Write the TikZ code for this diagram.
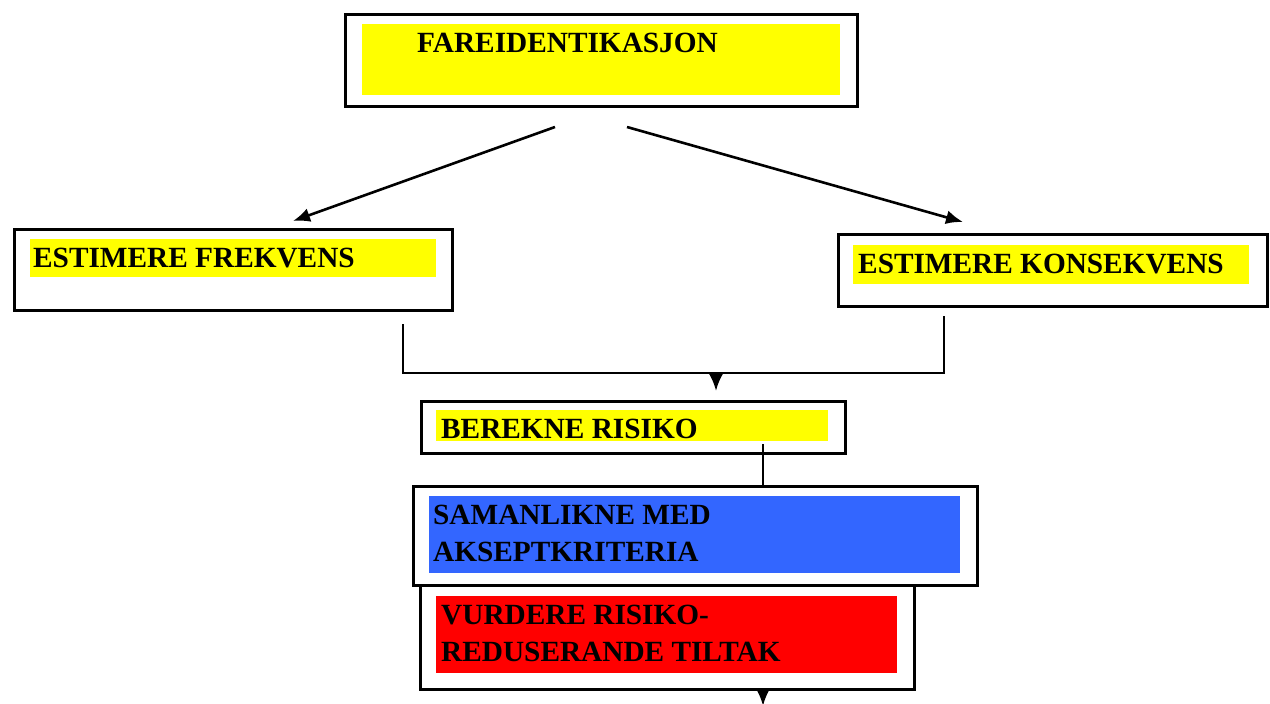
\documentclass[tikz,border=0pt]{standalone}
\usepackage{fontspec}
\setmainfont{Liberation Serif}
\usetikzlibrary{arrows.meta}
\definecolor{boxyellow}{RGB}{255,255,0}
\definecolor{boxblue}{RGB}{51,102,255}
\definecolor{boxred}{RGB}{255,0,0}
\begin{document}
\begin{tikzpicture}[x=1pt,y=-1pt,
  outerbox/.style={draw=black, line width=2.8pt, fill=white, inner sep=0pt, anchor=north west},
  fillbox/.style={inner sep=0pt, anchor=north west, draw=none},
  lbl/.style={font=\fontsize{29.3}{37}\selectfont\bfseries, inner sep=0pt, anchor=base west, align=left},
  conn/.style={draw=black, line width=2.6pt},
  arr/.style={conn, -{Latex[length=17pt,width=14pt]}},
  arrtop/.style={conn, -{Latex[length=17pt,width=14pt]}}
]
\useasboundingbox (0,0) rectangle (1270,704);
\fill[white] (0,0) rectangle (1270,704);

% top box
\node[outerbox, minimum width=512pt, minimum height=92pt] (fare) at (344,13) {};
\node[fillbox, fill=boxyellow, minimum width=478pt, minimum height=71pt] (fareY) at (362,24) {};
\node[lbl] (fareT) at (417,52) {FAREIDENTIKASJON};

% left box
\node[outerbox, minimum width=438pt, minimum height=81pt] (frek) at (13,228) {};
\node[fillbox, fill=boxyellow, minimum width=406pt, minimum height=38pt] (frekY) at (30,239) {};
\node[lbl] (frekT) at (33,267) {ESTIMERE FREKVENS};

% right box
\node[outerbox, minimum width=429pt, minimum height=72pt] (kons) at (837,233) {};
\node[fillbox, fill=boxyellow, minimum width=396pt, minimum height=39pt] (konsY) at (853,245) {};
\node[lbl] (konsT) at (858,273) {ESTIMERE KONSEKVENS};

% berekne risiko
\node[outerbox, minimum width=424pt, minimum height=52pt] (bere) at (420,400) {};
\node[fillbox, fill=boxyellow, minimum width=392pt, minimum height=31pt] (bereY) at (436,410) {};
\node[lbl] (bereT) at (441,438) {BEREKNE RISIKO};

% vurdere (drawn first so samanlikne lies on top)
\node[outerbox, minimum width=494pt, minimum height=104pt] (vurd) at (419,584) {};
\node[fillbox, fill=boxred, minimum width=461pt, minimum height=77pt] (vurdY) at (436,596) {};
\node[lbl] (vurdT) at (441,661) {VURDERE RISIKO-\\REDUSERANDE TILTAK};

% samanlikne
\node[outerbox, minimum width=564pt, minimum height=99pt] (saman) at (412,485) {};
\node[fillbox, fill=boxblue, minimum width=531pt, minimum height=77pt] (samanY) at (429,496) {};
\node[lbl] (samanT) at (433,561) {SAMANLIKNE MED\\AKSEPTKRITERIA};

% connectors
\coordinate (t1) at (555,127);
\coordinate (t2) at (627,127);
\coordinate (e1) at (293,221);
\coordinate (e2) at (963,222);
\draw[arrtop] (t1) -- (e1);
\draw[arrtop] (t2) -- (e2);

\coordinate (bl) at (403,324);
\coordinate (br) at (944,316);
\coordinate (bj) at (716,373);
\draw[conn] (bl) -- (403,373) -- (944,373) -- (br);
\draw[arr, shorten >=9pt] (bj) -- (bj |- bere.north);

\coordinate (bs) at (763,444);
\draw[conn] (bs) -- (bs |- saman.north);

\coordinate (end) at (763,706);
\draw[arr] (vurd.south -| end) -- (end);
\end{tikzpicture}
\end{document}
